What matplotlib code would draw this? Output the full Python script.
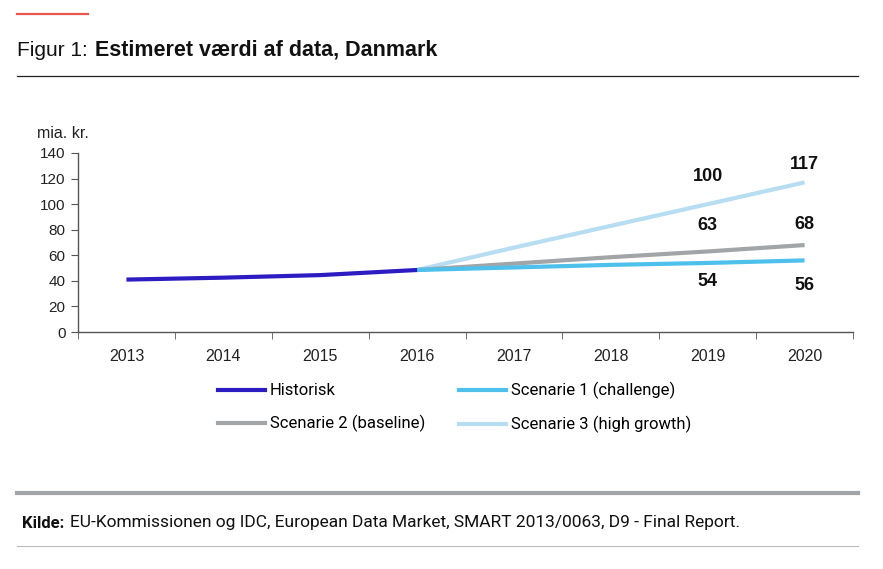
import matplotlib
matplotlib.use("Agg")
import matplotlib.pyplot as plt
from matplotlib.lines import Line2D

plt.rcParams["font.family"] = ["Liberation Sans", "DejaVu Sans"]

years = ["2013", "2014", "2015", "2016", "2017", "2018", "2019", "2020"]
historisk = [41, 42.5, 44.5, 48.5]
scenarie_1 = [48.5, 50.5, 52.5, 54, 56]
scenarie_2 = [48.5, 53.5, 58.5, 63, 68]
scenarie_3 = [48.5, 66, 83, 100, 117]
labelled_years = [6, 7]
labels_1 = [54, 56]
labels_2 = [63, 68]
labels_3 = [100, 117]

W, H = 883, 569
fig = plt.figure(figsize=(W / 100, H / 100), dpi=100)


def fx(px):
    return px / W


def fy(py):
    return 1 - py / H


ax = fig.add_axes([fx(78), fy(332), fx(853) - fx(78), fy(153) - fy(332)])

x_hist = list(range(len(historisk)))
x_scen = list(range(3, 3 + len(scenarie_1)))
ax.plot(x_scen, scenarie_3, color="#B6DDF2", lw=3, solid_capstyle="butt", zorder=2)
ax.plot(x_scen, scenarie_2, color="#A2A5A8", lw=3, solid_capstyle="butt", zorder=3)
ax.plot(x_scen, scenarie_1, color="#4DC0EC", lw=3, solid_capstyle="butt", zorder=4)
ax.plot(x_hist, historisk, color="#2C1CC2", lw=3, solid_capstyle="butt", zorder=5)

# value labels, offsets in points
offsets_3 = [20, 13]
offsets_2 = [19, 15]
offsets_1 = [-13, -18]
for vals, offs in [(labels_3, offsets_3), (labels_2, offsets_2), (labels_1, offsets_1)]:
    for xi, v, off in zip(labelled_years, vals, offs):
        ax.annotate(str(v), (xi, v), xytext=(0, off), textcoords="offset points",
                    ha="center", va="center", fontsize=13, fontweight="bold", color="#111111")

ax.set_xlim(-0.5, 7.5)
ax.set_ylim(0, 140)
ax.set_yticks(range(0, 141, 20))
ax.set_xticks(range(len(years)))
ax.set_xticklabels(years)
ax.set_xticks([i - 0.5 for i in range(len(years) + 1)], minor=True)
ax.tick_params(axis="x", which="major", length=0, pad=12, labelsize=11.5, colors="#222222")
ax.tick_params(axis="x", which="minor", length=5, direction="out", color="#555555")
ax.tick_params(axis="y", length=5, direction="out", color="#555555", labelsize=11,
               labelcolor="#222222", pad=4)
for side in ["top", "right"]:
    ax.spines[side].set_visible(False)
for side in ["left", "bottom"]:
    ax.spines[side].set_color("#555555")
    ax.spines[side].set_linewidth(1)

fig.text(fx(37), fy(133), "mia. kr.", fontsize=11.5, va="center", ha="left", color="#222222")

handles = [
    Line2D([], [], color="#2C1CC2", lw=3),
    Line2D([], [], color="#A2A5A8", lw=3),
    Line2D([], [], color="#4DC0EC", lw=3),
    Line2D([], [], color="#B6DDF2", lw=3),
]
names = ["Historisk", "Scenarie 2 (baseline)", "Scenarie 1 (challenge)", "Scenarie 3 (high growth)"]
fig.legend(handles, names, ncol=2, loc="upper left", bbox_to_anchor=(fx(218), fy(382)),
           frameon=False, handlelength=2.8, handletextpad=0.3,
           columnspacing=2.05, labelspacing=1.0, borderaxespad=0, borderpad=0,
           prop={"family": ["Roboto", "DejaVu Sans"], "size": 12})

# header and footer decoration
fig.add_artist(Line2D([fx(17), fx(88)], [fy(14), fy(14)], color="#E8564C", lw=1.6))
fig.text(fx(17), fy(50), "Figur 1:", fontsize=15, va="center", ha="left", color="#111111")
fig.text(fx(95), fy(50), "Estimeret værdi af data, Danmark", fontsize=15.5, fontweight="bold",
         va="center", ha="left", color="#111111")
fig.add_artist(Line2D([fx(17), fx(858)], [fy(76), fy(76)], color="#222222", lw=0.9))
fig.add_artist(Line2D([fx(17), fx(858)], [fy(493), fy(493)], color="#A2A5A8", lw=3))
fig.text(fx(22), fy(523), "Kilde:", fontsize=12, fontweight="bold", va="center", ha="left",
         family=["Roboto", "DejaVu Sans"], color="#111111")
fig.text(fx(70), fy(523), "EU-Kommissionen og IDC, European Data Market, SMART 2013/0063, D9 - Final Report.",
         fontsize=12.5, va="center", ha="left", family=["Roboto", "DejaVu Sans"], color="#111111")
fig.add_artist(Line2D([fx(17), fx(858)], [fy(546), fy(546)], color="#BBBBBB", lw=0.8))

fig.savefig("out.png", dpi=100)
